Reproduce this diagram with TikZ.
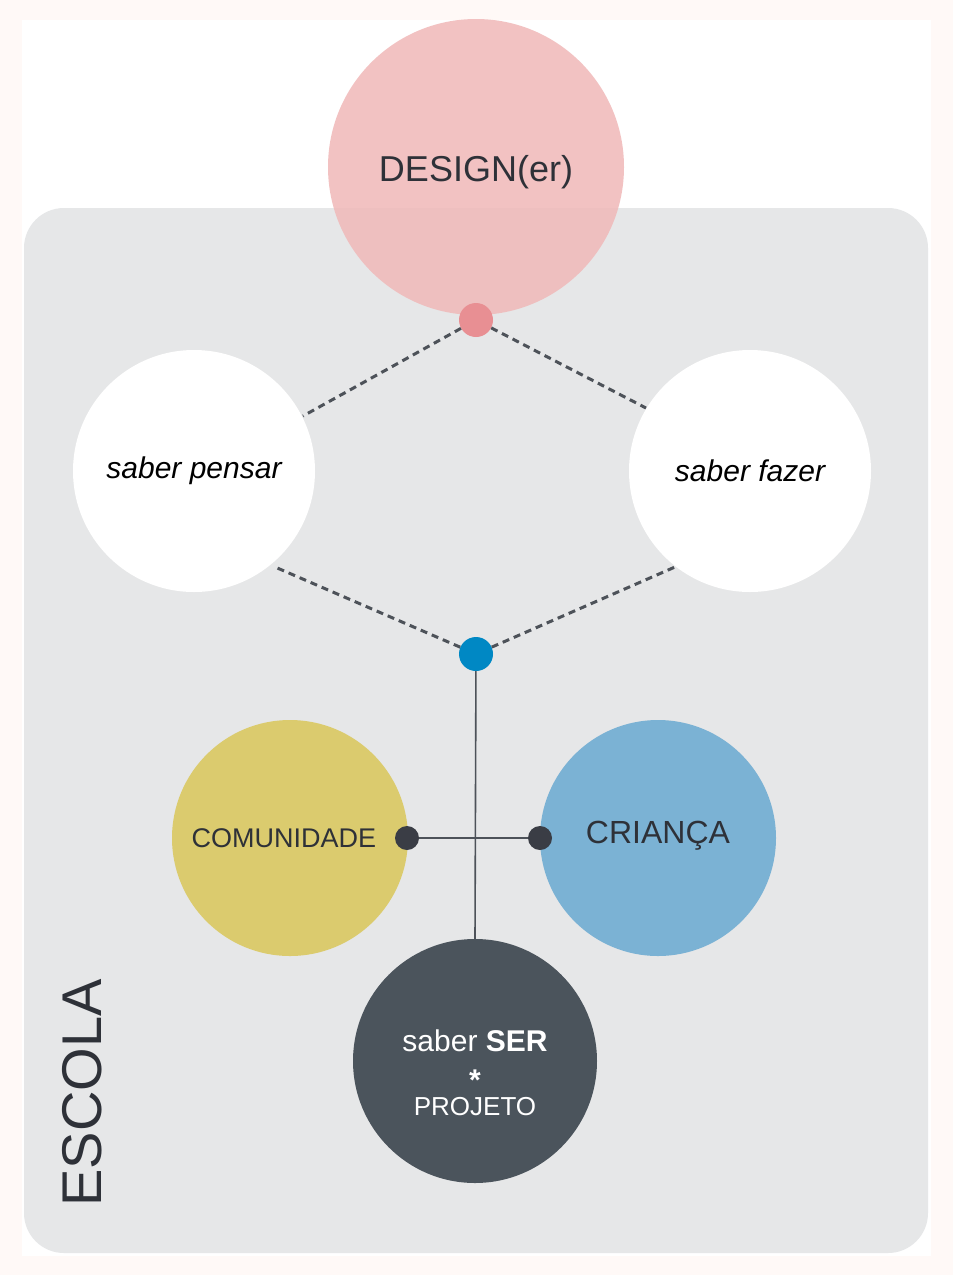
\documentclass[tikz,border=0pt]{standalone}
\usepackage{fontspec}
\setmainfont{Liberation Sans}
\begin{document}
\begin{tikzpicture}[x=1pt,y=-1pt,
  dashl/.style={draw=dk,line width=3pt,dash pattern=on 7pt off 5pt},
  solidl/.style={draw=dk,line width=1.6pt},
  fs/.style={font=\fontsize{#1}{#1}\selectfont}]
\definecolor{bgp}{HTML}{FFF9F7}
\definecolor{gry}{HTML}{E6E7E8}
\definecolor{pink}{HTML}{F0B8B8}
\definecolor{pdot}{HTML}{E88F93}
\definecolor{bdot}{HTML}{0088C4}
\definecolor{dk}{HTML}{4D5259}
\definecolor{yel}{HTML}{DBCB6E}
\definecolor{blu}{HTML}{7BB2D4}
\definecolor{ddot}{HTML}{3A3D45}
\definecolor{slate}{HTML}{4B545C}
\definecolor{txt}{HTML}{2E3138}
\fill[bgp] (0,0) rectangle (953,1275);
\useasboundingbox (0,0) rectangle (953,1275);
\fill[white] (22,20) rectangle (931,1256);
\fill[gry,rounded corners=40pt] (24,208) rectangle (928,1253);
\node[circle,fill=pink,fill opacity=0.85,minimum size=296pt,inner sep=0] (design) at (476,167) {};
\node[fs=36,text=txt] at (476,172) {DESIGN(er)};
\node[circle,fill=white,minimum size=242pt,inner sep=0,fs=30] (pensar) at (194,471) {\itshape saber pensar};
\node[circle,fill=white,minimum size=242pt,inner sep=0,fs=30] (fazer) at (750,471) {\itshape saber fazer};
\coordinate (p1) at (303,416); \coordinate (p2) at (646,408);
\coordinate (p3) at (275,567); \coordinate (p4) at (675,567);
\coordinate (bot) at (475,940);
\node[circle,fill=yel,minimum size=236pt,inner sep=0] (com) at (290,838) {};
\node[fs=27,text=txt] at (284,838) {COMUNIDADE};
\node[circle,fill=blu,minimum size=236pt,inner sep=0] (cri) at (658,838) {};
\node[fs=32,text=txt] at (658,836) {CRIANÇA};
\node[circle,fill=pdot,minimum size=34pt,inner sep=0] (pd) at (476,320) {};
\node[circle,fill=bdot,minimum size=34pt,inner sep=0] (bd) at (476,654) {};
\draw[dashl] (pd) -- (p1); \draw[dashl] (pd) -- (p2);
\draw[dashl] (bd) -- (p3); \draw[dashl] (bd) -- (p4);
\node[circle,fill=ddot,minimum size=24pt,inner sep=0] (d1) at (407,838) {};
\node[circle,fill=ddot,minimum size=24pt,inner sep=0] (d2) at (540,838) {};
\draw[solidl] (bd) -- (bot);
\draw[solidl] (d1) -- (d2);
\node[circle,fill=slate,minimum size=244pt,inner sep=0] (ser) at (475,1061) {};
\node[fs=30,text=white] at (475,1041) {saber \textbf{SER}};
\node[fs=30,text=white] at (475,1080) {\textbf{*}};
\node[fs=26,text=white] at (475,1107) {PROJETO};
\node[fs=56,text=txt,rotate=90] (esc) at (82,1093) {ESCOLA};
\end{tikzpicture}
\end{document}
